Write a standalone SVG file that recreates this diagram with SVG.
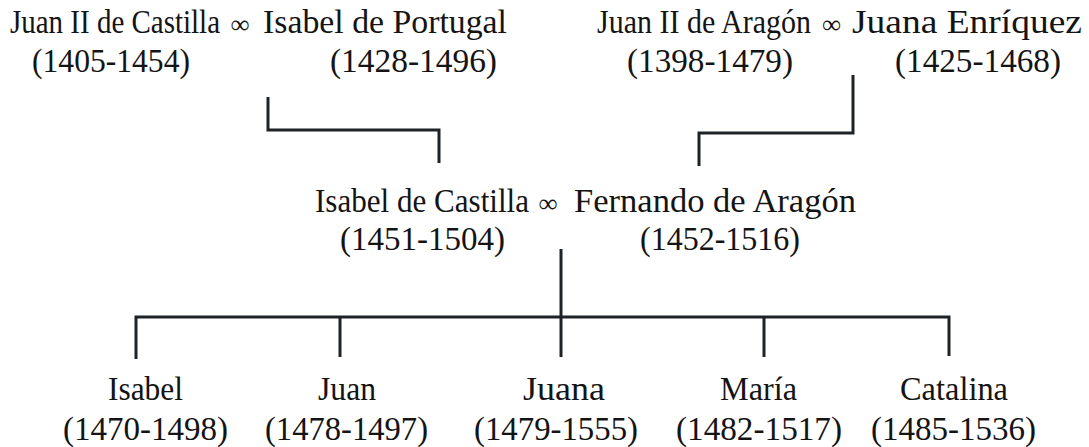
<svg xmlns="http://www.w3.org/2000/svg" width="1089" height="447" viewBox="0 0 1089 447">
<style>
text{font-family:"Liberation Serif","Times New Roman",serif;font-size:33px;fill:#141414;text-anchor:middle}
.inf{font-weight:bold;font-size:26px}
.ln{fill:none;stroke:#1e2327;stroke-width:3;stroke-linejoin:miter;stroke-linecap:butt}
</style>
<rect width="1089" height="447" fill="#fff"/>
<g id="juan2castilla"><text x="115" y="33" font-size="29" textLength="210" lengthAdjust="spacingAndGlyphs">Juan II de Castilla</text><text x="111" y="72" textLength="158" lengthAdjust="spacingAndGlyphs">(1405-1454)</text></g>
<g id="inf1"><text class="inf" x="240" y="33">∞</text></g>
<g id="isabelportugal"><text x="385" y="33" textLength="244" lengthAdjust="spacingAndGlyphs">Isabel de Portugal</text><text x="413.5" y="72" textLength="167" lengthAdjust="spacingAndGlyphs">(1428-1496)</text></g>
<g id="juan2aragon"><text x="704" y="33" font-size="30" textLength="214" lengthAdjust="spacingAndGlyphs">Juan II de Aragón</text><text x="710" y="72" textLength="166" lengthAdjust="spacingAndGlyphs">(1398-1479)</text></g>
<g id="inf2"><text class="inf" x="831.5" y="33">∞</text></g>
<g id="juanaenriquez"><text x="967" y="33" textLength="230" lengthAdjust="spacingAndGlyphs">Juana Enríquez</text><text x="978" y="72" textLength="166" lengthAdjust="spacingAndGlyphs">(1425-1468)</text></g>
<g id="isabelcastilla"><text x="422" y="212" font-size="31" textLength="214" lengthAdjust="spacingAndGlyphs">Isabel de Castilla</text><text x="422.5" y="250" textLength="165" lengthAdjust="spacingAndGlyphs">(1451-1504)</text></g>
<g id="inf3"><text class="inf" x="548" y="212">∞</text></g>
<g id="fernando"><text x="715" y="212" textLength="282" lengthAdjust="spacingAndGlyphs">Fernando de Aragón</text><text x="720" y="250" textLength="160" lengthAdjust="spacingAndGlyphs">(1452-1516)</text></g>
<g id="isabel"><text x="145.5" y="400" textLength="75" lengthAdjust="spacingAndGlyphs">Isabel</text><text x="145.5" y="440" textLength="165" lengthAdjust="spacingAndGlyphs">(1470-1498)</text></g>
<g id="juan"><text x="347" y="400" textLength="58" lengthAdjust="spacingAndGlyphs">Juan</text><text x="346.5" y="440" textLength="163" lengthAdjust="spacingAndGlyphs">(1478-1497)</text></g>
<g id="juana"><text x="564" y="400" textLength="82" lengthAdjust="spacingAndGlyphs">Juana</text><text x="556" y="440" textLength="164" lengthAdjust="spacingAndGlyphs">(1479-1555)</text></g>
<g id="maria"><text x="758.5" y="400" textLength="77" lengthAdjust="spacingAndGlyphs">María</text><text x="759" y="440" textLength="166" lengthAdjust="spacingAndGlyphs">(1482-1517)</text></g>
<g id="catalina"><text x="954" y="400" textLength="108" lengthAdjust="spacingAndGlyphs">Catalina</text><text x="953.5" y="440" textLength="165" lengthAdjust="spacingAndGlyphs">(1485-1536)</text></g>
<g id="connectors">
<polyline class="ln" points="268,97 268,130 439,130 439,163"/>
<polyline class="ln" points="853,75 853,133 699,133 699,166"/>
<line class="ln" x1="561" y1="249" x2="561" y2="357"/>
<polyline class="ln" points="136,359 136,317 949,317 949,356"/>
<line class="ln" x1="340" y1="317" x2="340" y2="357"/>
<line class="ln" x1="764" y1="317" x2="764" y2="357"/>
</g>
</svg>
